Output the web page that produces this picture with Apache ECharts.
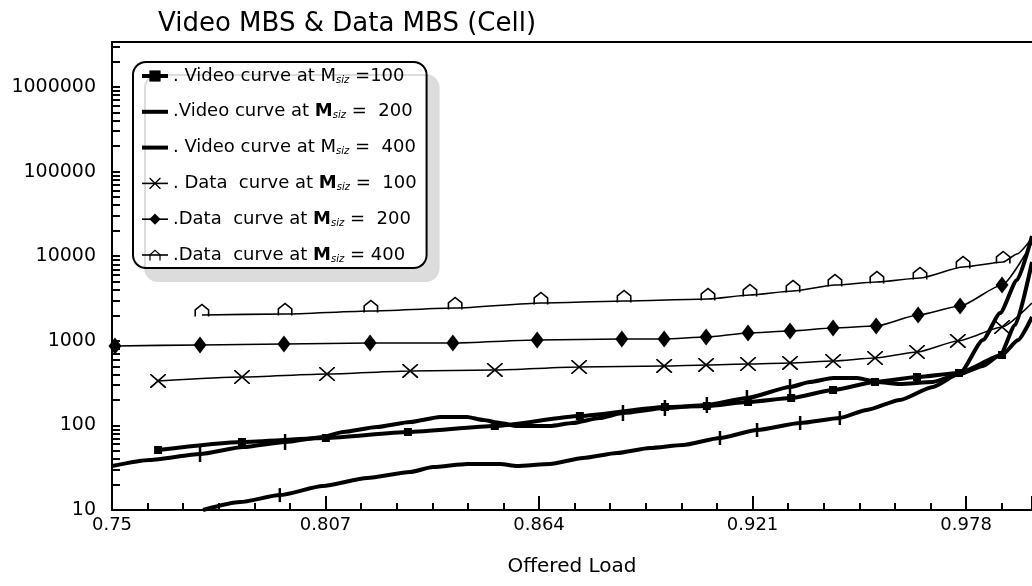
<!DOCTYPE html>
<html><head><meta charset="utf-8">
<script src="https://cdn.jsdelivr.net/npm/echarts@6/dist/echarts.min.js"></script>
<style>html,body{margin:0;padding:0;background:#fff}#c{width:1032px;height:586px}</style>
</head><body><div id="c"></div>
<script>
const chartTitle = 'Video MBS & Data MBS (Cell)';
const xName = 'Offered Load';
const xTicks = [0.75, 0.807, 0.864, 0.921, 0.978];
const xMax = 0.9956;
const yTicks = [10, 100, 1000, 10000, 100000, 1000000];
const yMax = 3400000;

// Video curve, Msiz = 100 (filled squares)
const v100X = [0.7623,0.7847,0.8071,0.829,0.8522,0.8749,0.8976,0.9088,0.9198,0.9313,0.9425,0.9537,0.9649,0.9761,0.9876,0.9919,0.9956];
const v100Y = [51.2,63.7,71.0,83.6,98.4,129.2,165.0,169.6,189.1,210.9,262.0,325.8,373.4,416.4,679.5,1022,1911];
const v100M = [1,1,1,1,1,1,1,1,1,1,1,1,1,1,1,0,0];

// Video curve, Msiz = 200 (vertical ticks)
const v200X = [0.75,0.7601,0.7735,0.785,0.7962,0.8063,0.8117,0.8207,0.8296,0.8376,0.8448,0.8491,0.8536,0.8581,0.8669,0.873,0.8802,0.8864,0.8976,0.9088,0.9195,0.931,0.9363,0.9425,0.9489,0.9542,0.9603,0.9691,0.9764,0.9825,0.9871,0.9911,0.9956];
const v200Y = [33.1,39.0,45.9,55.5,63.7,72.9,83.6,95.7,109.7,125.7,125.7,115.8,106.8,98.4,98.4,106.8,122.3,140.1,160.6,174.3,210.9,284.3,325.8,363.4,363.4,325.8,308.5,325.8,405.1,503.8,679.5,1538,8537];
const v200M = [0,0,1,0,1,0,0,0,0,0,0,0,0,0,0,0,0,1,1,1,1,1,0,0,0,0,0,0,0,0,0,0,0];

// Video curve, Msiz = 400 (vertical ticks)
const v400X = [0.7743,0.7842,0.7948,0.8063,0.8181,0.8296,0.8357,0.8448,0.8536,0.8581,0.8669,0.8757,0.8848,0.8936,0.9024,0.9123,0.9222,0.9337,0.9443,0.9515,0.9603,0.9691,0.9764,0.9825,0.9871,0.9916,0.9956];
const v400Y = [10,12.4,15.0,19.2,23.9,28.1,32.2,35.0,35.0,33.1,35.0,41.2,47.2,54.1,58.7,71.0,88.2,106.8,122.3,152.1,199.6,284.3,416.4,1022,2131,5232,17330];
const v400M = [0,0,1,0,0,0,0,0,0,0,0,0,0,0,0,1,1,1,1,0,0,0,0,0,0,0,0];

// Data curve, Msiz = 100 (crosses)
const d100X = [0.7623,0.7847,0.8074,0.8296,0.8522,0.8747,0.8974,0.9086,0.9198,0.931,0.9425,0.9537,0.9649,0.9758,0.9876,0.9956];
const d100Y = [335,373,405,440,452,490,504,518,532,547,577,626,737,995,1456,2798];
const d100M = [1,1,1,1,1,1,1,1,1,1,1,1,1,1,1,0];

// Data curve, Msiz = 200 (diamonds)
const d200X = [0.7508,0.7735,0.7959,0.8189,0.841,0.8635,0.8861,0.8974,0.9086,0.9198,0.931,0.9425,0.954,0.9652,0.9764,0.9876,0.9956];
const d200Y = [868,892,917,942,942,1022,1050,1050,1109,1237,1306,1417,1496,2018,2578,4566,14320];
const d200M = [1,1,1,1,1,1,1,1,1,1,1,1,1,1,1,1,0];

// Data curve, Msiz = 400 (caps)
const d400X = [0.774,0.7962,0.8191,0.8416,0.8645,0.8867,0.9091,0.9203,0.9318,0.943,0.9542,0.9657,0.9772,0.9879,0.9916,0.9956];
const d400Y = [2018,2074,2251,2442,2798,2954,3120,3479,3879,4566,4955,5525,7455,8537,10620,16410];
const d400M = [1,1,1,1,1,1,1,1,1,1,1,1,1,1,0,0];

const names = ['Video curve at Msiz = 100','Video curve at Msiz = 200','Video curve at Msiz = 400',
               'Data curve at Msiz = 100','Data curve at Msiz = 200','Data curve at Msiz = 400'];
const legendParts = [
  ['. Video curve at ', false, ' =100'],
  ['.Video curve at ', true, ' =  200'],
  ['. Video curve at ', false, ' =  400'],
  ['. Data  curve at ', true, ' =  100'],
  ['.Data  curve at ', true, ' =  200'],
  ['.Data  curve at ', true, ' = 400']
];

const X0 = xTicks[0];
const FONT = 'DejaVu Sans';
const THICK = 4, THIN = 1.6;
const crossPath = 'path://M0,0L1.3,0L16,12.9L16,14L14.7,14L0,1.1Z M16,0L16,1.1L1.3,14L0,14L0,12.9L14.7,0Z';
const capPath = 'path://M0,13L0,6L7.5,0L15,6L15,13L13.4,13L13.4,6.8L7.5,2L1.6,6.8L1.6,13Z';
const barIcon = 'path://M0,0H26V4H0Z';

function build(xs, ys, ms) {
  return xs.map((x, i) => {
    const it = { value: [x - X0, ys[i]] };
    if (!ms[i]) it.symbol = 'none';
    return it;
  });
}

const yMinor = [];
for (let d = 10; d <= 1000000; d *= 10) for (let k = 1; k <= 9; k++) yMinor.push(d * k);

function lineSeries(i, xs, ys, ms, width, symbol, size, offset) {
  return {
    name: names[i], type: 'line', data: build(xs, ys, ms),
    symbol: symbol, symbolSize: size, symbolOffset: offset || [0, 0],
    smooth: 0.2, smoothMonotone: 'x',
    lineStyle: { color: '#000', width: width },
    itemStyle: { color: '#000' },
    emphasis: { disabled: true },
    animation: false
  };
}

const legendData = names.map((n, i) => {
  const item = { name: n, lineStyle: { width: i < 3 ? THICK : THIN, color: '#000' } };
  if (i === 1 || i === 2) item.icon = barIcon;
  return item;
});

const chart = echarts.init(document.getElementById('c'), null, { renderer: 'canvas' });
chart.setOption({
  backgroundColor: '#fff',
  animation: false,
  title: {
    text: chartTitle, left: 153, top: 6,
    textStyle: { fontFamily: FONT, fontSize: 26, fontWeight: 'normal', color: '#000' }
  },
  grid: { left: 112, right: 0, top: 42, bottom: 76 },
  legend: {
    orient: 'vertical', left: 133, top: 62,
    padding: [5, 10, 4, 7], itemGap: 17.8, itemWidth: 26, itemHeight: 14,
    backgroundColor: '#fff', borderColor: '#000', borderWidth: 2, borderRadius: 13,
    shadowColor: '#dcdcdc', shadowBlur: 0, shadowOffsetX: 12, shadowOffsetY: 13,
    selectedMode: false,
    data: legendData,
    formatter: function (name) {
      const p = legendParts[names.indexOf(name)];
      return '{t|' + p[0] + '}{' + (p[1] ? 'm' : 't') + '|M}{s|siz}{t|' + p[2] + '}';
    },
    textStyle: {
      fontFamily: FONT, fontSize: 18, color: '#000', lineHeight: 18,
      rich: {
        t: { fontFamily: FONT, fontSize: 18, lineHeight: 18, color: '#000' },
        m: { fontFamily: FONT, fontSize: 18, lineHeight: 18, fontWeight: 'bold', color: '#000' },
        s: { fontFamily: FONT, fontSize: 10, lineHeight: 18, fontStyle: 'italic', color: '#000', verticalAlign: 'bottom' }
      }
    }
  },
  xAxis: [{
    type: 'value', min: 0, max: xMax - X0, interval: xTicks[1] - xTicks[0],
    name: xName, nameLocation: 'middle', nameGap: 47,
    nameTextStyle: { fontFamily: FONT, fontSize: 20, color: '#000' },
    axisLine: { show: true, lineStyle: { color: '#000', width: 2 } },
    axisTick: { show: true, inside: true, length: 14, lineStyle: { color: '#000', width: 2 } },
    minorTick: { show: true, splitNumber: 6, length: 7, lineStyle: { color: '#000', width: 2 } },
    splitLine: { show: false }, minorSplitLine: { show: false },
    axisLabel: {
      fontFamily: FONT, fontSize: 18, color: '#000', margin: 6, showMaxLabel: false,
      formatter: v => String(+(v + X0).toFixed(3))
    }
  }, {
    type: 'value', position: 'top', min: 0, max: xMax - X0,
    axisLine: { show: true, lineStyle: { color: '#000', width: 2 } },
    axisTick: { show: false }, axisLabel: { show: false }, splitLine: { show: false }
  }],
  yAxis: {
    type: 'log', logBase: 10, min: yTicks[0], max: yMax,
    axisLine: { show: true, lineStyle: { color: '#000', width: 2 } },
    axisTick: { show: true, inside: true, length: 8, customValues: yMinor, lineStyle: { color: '#000', width: 2 } },
    splitLine: { show: false },
    axisLabel: {
      fontFamily: FONT, fontSize: 19, color: '#000', margin: 16,
      customValues: yTicks,
      formatter: v => String(Math.round(v))
    }
  },
  series: [
    lineSeries(0, v100X, v100Y, v100M, THICK, 'rect', 8),
    lineSeries(1, v200X, v200Y, v200M, THICK, 'rect', [2.5, 16]),
    lineSeries(2, v400X, v400Y, v400M, THICK, 'rect', [2.5, 14]),
    lineSeries(3, d100X, d100Y, d100M, THIN, crossPath, [16, 14]),
    lineSeries(4, d200X, d200Y, d200M, THIN, 'diamond', [13, 17]),
    lineSeries(5, d400X, d400Y, d400M, THIN, capPath, [15, 13], [0, -5])
  ]
});
</script></body></html>
